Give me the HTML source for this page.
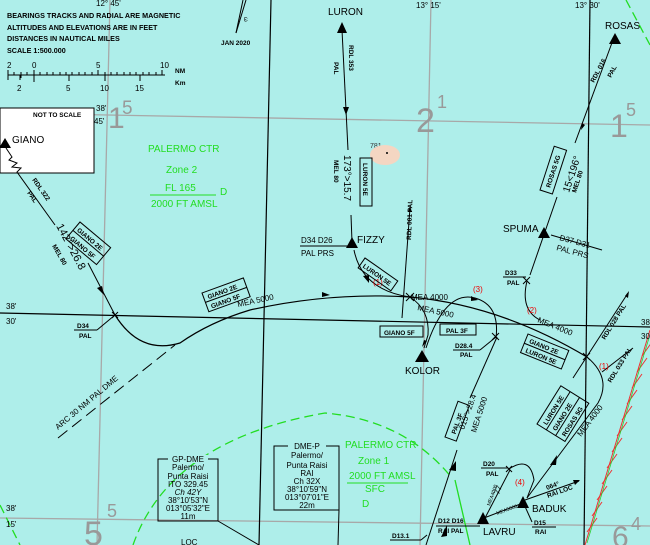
<!DOCTYPE html>
<html><head><meta charset="utf-8"><style>
html,body{margin:0;padding:0;background:#aeeeea;}
svg{display:block;font-family:"Liberation Sans",sans-serif;}
.t{font-size:8px;fill:#000}
.s{font-size:6.5px;fill:#000;font-weight:bold}
.n{font-size:7.2px;fill:#000;font-weight:bold}
.g{fill:#22dd22;font-size:10px}
.gr{fill:#999;font-family:"Liberation Sans",sans-serif}
.r{fill:#e00;font-size:8px}
</style></head><body>
<svg width="650" height="545" viewBox="0 0 650 545" xmlns="http://www.w3.org/2000/svg">
<rect width="650" height="545" fill="#aeeeea"/>
<g stroke="#a8a8a8" stroke-width="1.3" fill="none">
<line x1="0" y1="113" x2="650" y2="125"/>
<line x1="0" y1="518" x2="650" y2="526"/>
<line x1="110" y1="0" x2="97" y2="545"/>
<line x1="431" y1="0" x2="420" y2="545"/>
</g>
<g stroke="#000" stroke-width="1.2" fill="none">
<line x1="271" y1="0" x2="259" y2="545"/>
<line x1="590" y1="0" x2="584" y2="545"/>
<line x1="0" y1="313" x2="650" y2="327"/>
</g>
<g stroke="#22dd22" stroke-width="1.3" fill="none" stroke-dasharray="9,5">
<path d="M133,545 Q170,440 325,413 Q405,420 452,478"/>
<path d="M0,505 L20,545"/>
<path d="M626,0 L650,45"/>
</g>
<line x1="455" y1="480" x2="470" y2="545" stroke="#22dd22" stroke-width="1.3"/>
<g stroke="#e33" stroke-width="1">
<line x1="650" y1="330" x2="585" y2="545"/>
<path d="M642,356 l10,-14 M637,372 l10,-14 M632,388 l10,-14 M627,404 l10,-14 M622,420 l10,-14 M617,436 l10,-14 M612,452 l10,-14 M607,468 l10,-14 M602,484 l10,-14 M597,500 l10,-14 M592,516 l10,-14 M587,532 l10,-14"/>
</g>
<line x1="649" y1="338" x2="587" y2="543" stroke="#2c2" stroke-width="0.7"/>

<text x="96" y="6" class="t">12° 45'</text>
<text x="7" y="18" class="n">BEARINGS TRACKS AND RADIAL ARE MAGNETIC</text>
<text x="7" y="30" class="n">ALTITUDES AND ELEVATIONS ARE IN FEET</text>
<text x="7" y="41" class="n">DISTANCES IN NAUTICAL MILES</text>
<text x="7" y="53" class="n">SCALE  1:500.000</text>
<text x="7" y="68" class="t">2</text><text x="32" y="68" class="t">0</text><text x="96" y="68" class="t">5</text><text x="160" y="68" class="t">10</text>
<text x="175" y="73" class="s">NM</text><text x="175" y="85" class="s">Km</text>
<g stroke="#000" stroke-width="1"><line x1="8" y1="75" x2="165" y2="75"/>
<path d="M8,70v10M14,72v3M21,72v6M27,72v3M34,70v12M40,72v3M47,72v3M53,72v3M60,72v3M66,72v3M72,72v3M79,72v3M85,72v3M92,72v3M98,70v5M105,72v3M111,72v3M117,72v3M124,72v3M130,72v3M136,72v3M143,72v3M149,72v3M156,72v3M162,70v5M69,75v6M105,75v6M140,75v6M20,75v5"/></g>
<text x="17" y="91" class="t">2</text><text x="66" y="91" class="t">5</text><text x="100" y="91" class="t">10</text><text x="135" y="91" class="t">15</text>
<line x1="243" y1="0" x2="236" y2="33" stroke="#000"/><line x1="246" y1="0" x2="236" y2="33" stroke="#000"/>
<text font-size="6" transform="translate(244,17) rotate(90)">ω</text>
<text x="221" y="45" class="s">JAN 2020</text>

<rect x="0" y="108" width="94" height="65" fill="#fff" stroke="#000"/>
<text x="33" y="117" class="s">NOT TO SCALE</text>
<text x="96" y="111" class="t">38'</text><text x="94" y="124" class="t">45'</text>
<path d="M-1,148 L5,138 L11,148Z" fill="#000"/>
<text x="12" y="143" font-size="10">GIANO</text>
<path d="M6,148 L12,157 L9,160 L17,163 L12,167 L21,168 L17,172 L55,225" stroke="#000" fill="none"/>
<text class="s" transform="translate(32,180) rotate(55)">RDL 322</text>
<text class="s" transform="translate(27,193) rotate(55)">PAL</text>
<text font-size="11" transform="translate(56,226) rotate(62)">142°&gt;26.8</text>
<text class="s" transform="translate(52,246) rotate(60)">MEL 80</text>
<g transform="translate(80,222) rotate(40)"><rect x="0" y="0" width="40" height="22" fill="none" stroke="#000"/><line x1="0" y1="11" x2="40" y2="11" stroke="#000"/><text x="3" y="9" class="s">GIANO 2E</text><text x="3" y="20" class="s">GIANO 5F</text></g>
<line x1="88" y1="263" x2="115" y2="315" stroke="#000"/>
<path d="M97,288 L104,295 L102,286Z" fill="#000"/>

<text x="108" y="128" class="gr" font-size="30">1</text><text x="122" y="114" class="gr" font-size="19">5</text>
<text x="416" y="132" class="gr" font-size="34">2</text><text x="437" y="108" class="gr" font-size="18">1</text>
<text x="610" y="137" class="gr" font-size="32">1</text><text x="626" y="116" class="gr" font-size="18">5</text>
<text x="84" y="545" class="gr" font-size="34">5</text><text x="107" y="517" class="gr" font-size="18">5</text>
<text x="612" y="547" class="gr" font-size="30">6</text><text x="631" y="530" class="gr" font-size="18">4</text>

<text x="148" y="152" class="g">PALERMO CTR</text>
<text x="166" y="173" class="g">Zone 2</text>
<text x="165" y="191" class="g" font-size="8">FL 165</text>
<line x1="150" y1="195" x2="216" y2="195" stroke="#22dd22"/>
<text x="151" y="207" class="g" font-size="8">2000 FT AMSL</text>
<text x="220" y="195" class="g">D</text>

<text x="6" y="309" class="t">38'</text><text x="6" y="324" class="t">30'</text>
<text x="641" y="325" class="t">38</text><text x="641" y="339" class="t">30</text>
<text x="6" y="511" class="t">38'</text><text x="6" y="527" class="t">15'</text>
<text x="416" y="8" class="t">13° 15'</text><text x="575" y="8" class="t">13° 30'</text>

<path d="M115,315 Q140,355 180,343 Q210,322 250,310 Q330,292 410,297 Q500,305 587,357" stroke="#000" fill="none" stroke-width="1.2"/>
<path d="M322,297 l8,-2 l-8,-3Z" fill="#000"/>
<text class="t" transform="translate(238,307) rotate(-12)">MEA 5000</text>
<g transform="translate(202,293) rotate(-20)"><rect x="0" y="0" width="44" height="20" fill="none" stroke="#000"/><line x1="0" y1="10" x2="44" y2="10" stroke="#000"/><text x="4" y="8" class="s">GIANO 2E</text><text x="4" y="18" class="s">GIANO 5F</text></g>
<text x="77" y="328" class="s">D34</text><line x1="74" y1="330" x2="97" y2="330" stroke="#000"/><text x="79" y="338" class="s">PAL</text>
<line x1="97" y1="330" x2="115" y2="315" stroke="#000"/>
<path d="M112,312l6,6M118,312l-6,6" stroke="#000"/>
<path d="M58,438 L175,345" stroke="#000" stroke-dasharray="12,6" fill="none"/>
<text class="t" font-size="9" transform="translate(58,430) rotate(-40)">ARC 30 NM PAL DME</text>

<text x="328" y="15" font-size="10">LURON</text>
<path d="M337,33 L342,22 L347,33Z" fill="#000"/>
<line x1="342" y1="30" x2="348" y2="150" stroke="#000"/>
<path d="M343,107 l3,8 l3,-8Z" fill="#000"/>
<text class="s" transform="translate(349,45) rotate(90)">RDL 353</text>
<text class="s" transform="translate(334,62) rotate(90)">PAL</text>
<text x="370" y="148" font-size="7" fill="#333">781</text>
<ellipse cx="385" cy="155" rx="15" ry="10" fill="#f4d6c2"/>
<circle cx="387" cy="153" r="1" fill="#000"/>
<text font-size="10" transform="translate(344,155) rotate(90)">173°&gt;15.7</text>
<text class="s" transform="translate(334,160) rotate(90)">MEL 80</text>
<g transform="translate(372,158) rotate(90)"><rect x="0" y="0" width="48" height="12" fill="none" stroke="#000"/><text x="5" y="9" class="s">LURON 5E</text></g>
<line x1="351" y1="215" x2="352" y2="242" stroke="#000"/>
<path d="M346,248 L352,237 L358,248Z" fill="#000"/>
<text x="357" y="243" font-size="10">FIZZY</text>
<text x="301" y="243" class="t">D34  D26</text><line x1="300" y1="246" x2="350" y2="246" stroke="#000"/><text x="301" y="256" class="t">PAL  PRS</text>
<path d="M354,250 Q362,290 410,297" stroke="#000" fill="none"/>
<path d="M363,276 l6,7 l0,-8Z" fill="#000"/>
<text x="373" y="285" class="r">(1)</text>
<g transform="translate(365,258) rotate(35)"><rect x="0" y="0" width="40" height="12" fill="none" stroke="#000"/><text x="3" y="9" class="s">LURON 5E</text></g>
<line x1="402" y1="318" x2="410" y2="208" stroke="#000"/>
<path d="M408,212 l2,-6 l2,6Z" fill="#000"/>
<text class="s" transform="translate(411,240) rotate(-88)">RDL 001 PAL</text>
<path d="M406,293l8,8M414,293l-8,8" stroke="#000"/>
<text x="411" y="300" class="t">MEA 4000</text>
<text class="t" transform="translate(417,310) rotate(12)">MEA 5000</text>
<path d="M410,297 Q430,310 428,335 L424,348" stroke="#000" fill="none"/>
<path d="M424,340 l-2,7 l5,-6Z" fill="#000"/>
<path d="M415,362 L422,350 L429,362Z" fill="#000"/>
<text x="405" y="374" font-size="10">KOLOR</text>
<rect x="380" y="326" width="43" height="11" fill="none" stroke="#000"/><text x="384" y="335" class="s">GIANO 5F</text>
<rect x="440" y="324" width="36" height="11" fill="none" stroke="#000"/><text x="446" y="333" class="s">PAL 3F</text>
<path d="M426,348 Q445,290 475,298 Q500,305 496,338" stroke="#000" fill="none"/>
<path d="M478,300 l-7,-4 l0,5Z" fill="#000"/>
<text x="473" y="292" class="r">(3)</text>
<text x="455" y="348" class="s">D28.4</text><line x1="453" y1="350" x2="480" y2="350" stroke="#000"/><text x="460" y="357" class="s">PAL</text>
<line x1="480" y1="350" x2="496" y2="337" stroke="#000"/>
<path d="M492,333l7,7M499,333l-7,7" stroke="#000"/>
<line x1="497" y1="337" x2="470" y2="398" stroke="#000"/>
<line x1="457" y1="450" x2="426" y2="545" stroke="#000"/>
<path d="M449,470 l7,-9 l0,10Z" fill="#000"/>
<text class="t" font-size="9" transform="translate(464,430) rotate(-70)">015°&gt;28.4</text>
<text class="t" font-size="9" transform="translate(476,433) rotate(-72)">MEA 5000</text>
<g transform="translate(445,437) rotate(-70)"><rect x="0" y="0" width="38" height="12" fill="none" stroke="#000"/><text x="6" y="9" class="s">PAL 3F</text></g>

<text x="605" y="29" font-size="10">ROSAS</text>
<path d="M609,44 L615,33 L621,44Z" fill="#000"/>
<line x1="613" y1="40" x2="575" y2="143" stroke="#000"/>
<path d="M582,123 l-1,7 l4,-5Z" fill="#000"/>
<line x1="557" y1="197" x2="530" y2="275" stroke="#000"/>
<text class="s" transform="translate(594,83) rotate(-62)">RDL 016</text>
<text class="s" transform="translate(611,78) rotate(-62)">PAL</text>
<text font-size="10" transform="translate(569,193) rotate(-72)">15&lt;196°</text>
<text class="s" transform="translate(576,193) rotate(-72)">MEL 80</text>
<g transform="translate(540,190) rotate(-72)"><rect x="0" y="0" width="46" height="13" fill="none" stroke="#000"/><text x="5" y="9" class="s">ROSAS 5G</text></g>
<path d="M538,238 L544,227 L550,238Z" fill="#000"/>
<text x="503" y="232" font-size="10">SPUMA</text>
<line x1="551" y1="235" x2="602" y2="250" stroke="#000"/>
<text x="559" y="240" class="t" transform="rotate(15 559 240)">D37  D31</text>
<text x="556" y="250" class="t" transform="rotate(15 556 250)">PAL   PRS</text>
<text x="505" y="275" class="s">D33</text><line x1="503" y1="277" x2="526" y2="277" stroke="#000"/><text x="507" y="285" class="s">PAL</text>
<path d="M523,277l7,7M530,277l-7,7" stroke="#000"/>
<path d="M527,281 Q520,310 540,320" stroke="#000" fill="none"/>
<text x="527" y="313" class="r">(2)</text>
<text class="t" transform="translate(537,322) rotate(22)">MEA 4000</text>
<g transform="translate(528,334) rotate(22)"><rect x="0" y="0" width="44" height="20" fill="none" stroke="#000"/><line x1="0" y1="10" x2="44" y2="10" stroke="#000"/><text x="4" y="8" class="s">GIANO 2E</text><text x="4" y="18" class="s">LURON 5E</text></g>
<path d="M583,353l7,7M590,353l-7,7" stroke="#000"/>
<line x1="573" y1="378" x2="628" y2="293" stroke="#000"/>
<path d="M625,296 l4,-5 l-1,7Z" fill="#000"/>
<text class="s" transform="translate(605,340) rotate(-58)">RDL 028 PAL</text>
<line x1="602" y1="372" x2="633" y2="348" stroke="#000"/>
<text class="s" transform="translate(611,383) rotate(-58)">RDL 033 PAL</text>
<text x="599" y="369" class="r">(1)</text>
<path d="M587,357 Q612,378 598,403 L527,498" stroke="#000" fill="none"/>
<path d="M550,465 l7,-10 l-1,10Z" fill="#000"/>
<text class="t" transform="translate(581,437) rotate(-53)">MEA 4000</text>
<g transform="translate(537,424) rotate(-58)"><rect x="0" y="0" width="45" height="33" fill="none" stroke="#000"/><line x1="0" y1="11" x2="45" y2="11" stroke="#000"/><line x1="0" y1="22" x2="45" y2="22" stroke="#000"/><text x="4" y="9" class="s">LURON 5E</text><text x="4" y="20" class="s">GIANO 2E</text><text x="4" y="31" class="s">ROSAS 5G</text></g>

<path d="M517,508 L523,496 L529,508Z" fill="#000"/>
<text x="532" y="512" font-size="10">BADUK</text>
<path d="M477,524 L483,512 L489,524Z" fill="#000"/>
<text x="483" y="535" font-size="10">LAVRU</text>
<line x1="484" y1="518" x2="523" y2="503" stroke="#000"/>
<text x="497" y="515" font-size="5" transform="rotate(-20 497 515)">MEA5000</text>
<line x1="525" y1="500" x2="579" y2="481" stroke="#000"/>
<path d="M573,480 l7,0 l-5,5Z" fill="#000"/>
<text x="547" y="490" class="s" transform="rotate(-20 547 490)">064°</text>
<text x="548" y="498" class="s" transform="rotate(-20 548 498)">RAI LOC</text>
<line x1="523" y1="502" x2="532" y2="522" stroke="#000"/>
<text x="534" y="525" class="s">D15</text><line x1="532" y1="527" x2="556" y2="527" stroke="#000"/><text x="535" y="534" class="s">RAI</text>
<path d="M509,469 Q530,455 534,480 L527,498" stroke="#000" fill="none"/>
<text x="515" y="485" class="r">(4)</text>
<text x="483" y="466" class="s">D20</text><line x1="481" y1="468" x2="508" y2="468" stroke="#000"/><text x="486" y="476" class="s">PAL</text>
<path d="M506,466l6,6M512,466l-6,6" stroke="#000"/>
<line x1="510" y1="470" x2="485" y2="518" stroke="#000"/>
<text font-size="5" transform="translate(490,506) rotate(-70)">MEA4000</text>
<text font-size="8" transform="translate(499,495) rotate(-70)">77</text>
<text x="438" y="523" class="s">D12  D16</text><line x1="436" y1="526" x2="480" y2="526" stroke="#000"/><text x="438" y="533" class="s">RAI   PAL</text>
<path d="M441,537 l6,-12 l0,11Z" fill="#000"/>
<text x="392" y="538" class="s">D13.1</text><line x1="390" y1="540" x2="421" y2="540" stroke="#000"/>
<line x1="421" y1="540" x2="427" y2="535" stroke="#000"/>

<text x="345" y="448" class="g">PALERMO CTR</text>
<text x="358" y="464" class="g">Zone 1</text>
<text x="349" y="479" class="g" font-size="8">2000 FT AMSL</text>
<line x1="347" y1="483" x2="408" y2="483" stroke="#22dd22"/>
<text x="365" y="492" class="g" font-size="8">SFC</text>
<text x="362" y="507" class="g">D</text>

<rect x="158" y="459" width="60" height="62" fill="none" stroke="#000"/>
<rect x="168" y="455" width="40" height="8" fill="#aeeeea"/>
<g font-size="8" text-anchor="middle">
<text x="188" y="462">GP-DME</text><text x="188" y="470">Palermo/</text><text x="188" y="479">Punta Raisi</text><text x="188" y="487">ITO 329.45</text><text x="188" y="495" font-style="italic">Ch 42Y</text><text x="188" y="503">38°10'53"N</text><text x="188" y="511">013°05'32"E</text><text x="188" y="519">11m</text>
</g>
<line x1="218" y1="521" x2="259" y2="545" stroke="#000"/>
<text x="181" y="545" class="t">LOC</text>
<rect x="274" y="446" width="65" height="64" fill="none" stroke="#000"/>
<rect x="288" y="442" width="38" height="8" fill="#aeeeea"/>
<g font-size="8" text-anchor="middle">
<text x="307" y="449">DME-P</text><text x="307" y="458">Palermo/</text><text x="307" y="468">Punta Raisi</text><text x="307" y="476">RAI</text><text x="307" y="484">Ch 32X</text><text x="307" y="492">38°10'59"N</text><text x="307" y="500">013°07'01"E</text><text x="307" y="508">22m</text>
</g>
<line x1="339" y1="510" x2="338" y2="545" stroke="#000"/>
</svg>
</body></html>
